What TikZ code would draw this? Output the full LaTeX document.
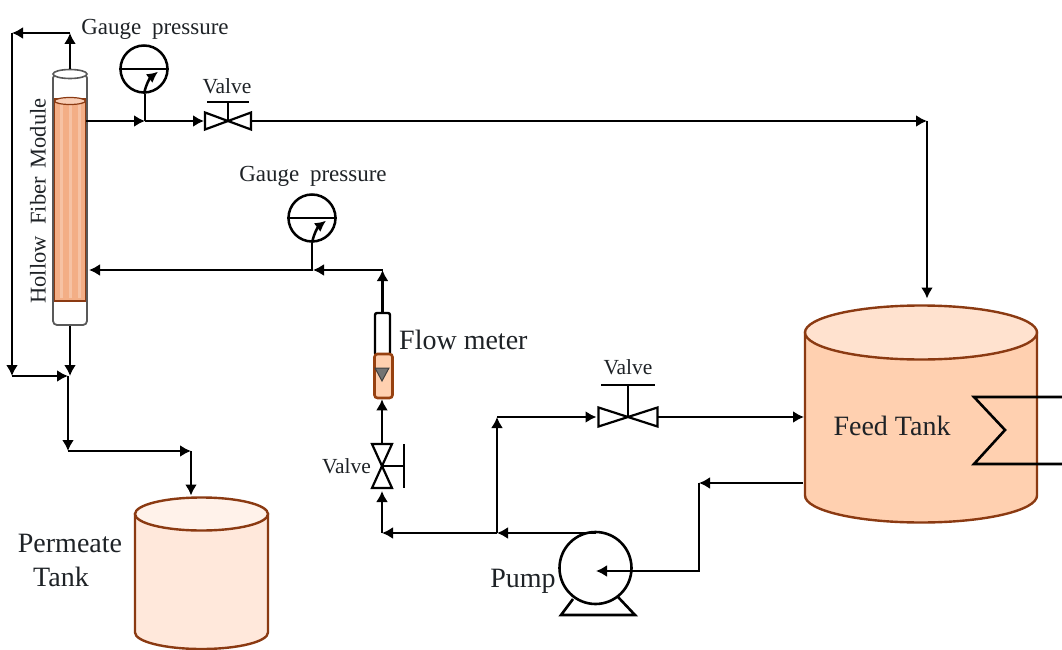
\documentclass[tikz,border=0pt]{standalone}
\usepackage{fontspec}
\setmainfont{Liberation Serif}
\usetikzlibrary{arrows.meta,shapes.geometric}
\definecolor{tankline}{HTML}{8B3A12}
\definecolor{feedbody}{HTML}{FFD0B0}
\definecolor{feedtop}{HTML}{FFE2CF}
\definecolor{permbody}{HTML}{FFE8DB}
\definecolor{permtop}{HTML}{FFF2EA}
\definecolor{fluid}{HTML}{F3AE86}
\definecolor{txt}{HTML}{1E2226}
\tikzset{
  pipe/.style={line width=2.9pt,-{Latex[length=11pt,width=12pt]}},
  lab/.style={font=\fontsize{#1}{#1}\selectfont,inner sep=0pt,text=txt},
  gauge/.style={circle,draw,line width=2.5pt,minimum size=47pt,inner sep=0pt},
  needle/.style={line width=2.5pt,-{Latex[length=11pt,width=11pt]}},
  pics/valve/.style n args={4}{code={
    \draw[line width=2.2pt,fill=white] (-#1,-#2) -- (0,0) -- (-#1,#2) -- cycle;
    \draw[line width=2.2pt,fill=white] (#1,-#2) -- (0,0) -- (#1,#2) -- cycle;
    \draw[line width=2.7pt] (0,0) -- (0,-#3);
    \draw[line width=2.5pt] (-#4,-#3) -- (#4,-#3);
    \coordinate (-a) at (-#1,0);
    \coordinate (-b) at (#1,0);
  }},
  pics/tank/.style n args={5}{code={
    \draw[draw=tankline,line width=2.4pt,fill=#4] (-#1,0) -- (-#1,#3) arc (180:360:#1pt and #2pt) -- (#1,0) -- cycle;
    \draw[draw=tankline,line width=2.4pt,fill=#5] (0,0) ellipse (#1pt and #2pt);
    \coordinate (-top) at (0,-#2);
    \coordinate (-west) at (-#1,0);
  }}
}
\begin{document}
\begin{tikzpicture}[x=1pt,y=-1pt]
\useasboundingbox (0,0) rectangle (1062,650);

% module
\node [draw=black!65,line width=1.8pt,fill=white,rounded corners=4pt,minimum width=34pt,minimum height=251pt,inner sep=0pt] (m) at (70,199.5) {};
\node [ellipse,draw=black!65,line width=1.6pt,fill=white,minimum width=34pt,minimum height=9pt,inner sep=0pt] (mt) at (70,74) {};
\node [fill=fluid,draw=tankline,line width=1.3pt,minimum width=31pt,minimum height=202pt,inner sep=0pt] (mf) at (70,200) {};
\foreach \x in {61,70,79}
  \draw [white,opacity=.25,line width=3pt] (\x,104) -- (\x,298);
\node [ellipse,draw=tankline,line width=1.2pt,fill=fluid!60,minimum width=31pt,minimum height=7pt,inner sep=0pt] (mc) at (70,101) {};
\node [lab=22.5,rotate=90] (ml) at (38,201) {Hollow\hspace{6pt} Fiber\hspace{3pt} Module};

% tanks
\pic (ft) at (921,332.5) {tank={116}{27}{163}{feedbody}{feedtop}};
\node [lab=28] (ftl) at (892,426) {Feed Tank};
\pic (pt) at (201.5,514) {tank={66.5}{16.5}{118.5}{permbody}{permtop}};
\node [lab=28,align=center] (ptl) at (70,560) {Permeate\\[6pt]Tank\hspace*{18pt}};

% coil
\coordinate (c1) at (1062,397);
\coordinate (c2) at (974,397);
\coordinate (c3) at (1005,430);
\coordinate (c4) at (974,464);
\coordinate (c5) at (1062,464);
\draw [line width=2.6pt] (c1) -- (c2) -- (c3) -- (c4) -- (c5);

% gauges
\node [gauge] (g1) at (144,69) {};
\node [lab=23] (g1l) at (155,29) {Gauge\hspace{5pt} pressure};
\node [gauge] (g2) at (312,218) {};
\node [lab=23] (g2l) at (313,176) {Gauge\hspace{5pt} pressure};
\draw [line width=2.2pt] (g1.west) -- (g1.east);
\draw [line width=2.2pt] (g2.west) -- (g2.east);
\draw [needle] (g1.south) to [bend left=20] ([shift={(14,-22)}]g1.south);
\draw [needle] (g2.south) to [bend left=20] ([shift={(14,-22)}]g2.south);

% valves
\pic (v1) at (228,121) {valve={23}{8.5}{19}{21}};
\node [lab=21.5] (v1l) at (227,86) {Valve};
\pic (v2) at (628,417) {valve={29.5}{9.5}{32}{27}};
\node [lab=21.5] (v2l) at (628,367) {Valve};
\pic [rotate=-90] (v3) at (382,466) {valve={22}{10}{22}{22}};
\node [lab=21.5] (v3l) at (346.5,466) {Valve};

% flow meter
\node [draw,line width=2.4pt,fill=white,rounded corners=2pt,minimum width=15pt,minimum height=42pt,inner sep=0pt] (fm) at (382.5,334) {};
\node [draw=tankline!90!orange,line width=2.6pt,fill=feedbody,rounded corners=3pt,minimum width=18pt,minimum height=44pt,inner sep=0pt] (fb) at (383.5,376) {};
\node [lab=28,anchor=west] (fl) at (399,340) {Flow meter};
\draw [fill=black!55,draw=black!75,line width=1pt] (375,368) -- (389,368) -- (382,381) -- cycle;

% pump
\coordinate (b1) at (573,599);
\coordinate (b2) at (561,615);
\coordinate (b3) at (635,615);
\coordinate (b4) at (618,597);
\draw [line width=2.6pt] (b1) -- (b2) -- (b3) -- (b4);
\node [circle,draw,line width=2.6pt,fill=white,minimum size=72pt,inner sep=0pt] (p) at (595.5,568) {};
\node [lab=28] (pl) at (523,581) {Pump};

% junctions
\coordinate (a) at (70,33);
\coordinate (b) at (12,33);
\coordinate (c) at (12,376);
\coordinate (d) at (68,376);
\coordinate (e) at (68,451);
\coordinate (f) at (191,451);
\coordinate (h) at (145,121);
\coordinate (i) at (927,121);
\coordinate (j) at (382.5,270);
\coordinate (k) at (313,270);
\coordinate (l) at (89,270);
\coordinate (n) at (382,533);
\coordinate (o) at (497,533);
\coordinate (q) at (497,417);
\coordinate (r) at (803,483);
\coordinate (s) at (699,483);
\coordinate (t) at (596,571);
\coordinate (u) at (804,417);

% pipes
\draw [pipe] (mt.north) -- (a);
\draw [pipe] (a) -- (b);
\draw [pipe] (b) -- (c);
\draw [pipe] (c) -- (d);
\draw [pipe] (m.south) -- (m.south |- d);
\draw [pipe] (d) -- (e);
\draw [pipe] (e) -- (f);
\draw [pipe,shorten >=2pt] (f) -- (f |- pt-top);
\draw [pipe] (mf.east |- h) -- (h);
\draw [line width=2.7pt] (h) -- (g1.south -| h);
\draw [pipe,shorten >=1pt] (h) -- (v1-a);
\draw [pipe] (v1-b) -- (i);
\draw [pipe,shorten >=7pt] (i) -- (i |- ft-top);
\draw [pipe] (fm.north) -- (j);
\draw [pipe] (j) -- (k);
\draw [pipe] (k) -- (l);
\draw [line width=2.7pt] (g2.south) -- (g2.south |- k);
\draw [pipe] (v3-a) -- (v3-a |- fb.south);
\draw [pipe,shorten >=3pt] (n) -- (v3-b);
\draw [pipe] (o) -- (n);
\draw [pipe] (p.north |- o) -- (o);
\draw [pipe] (o) -- (q);
\draw [pipe,shorten >=2pt] (q) -- (v2-a);
\draw [pipe] (v2-b) -- (u);
\draw [pipe] (r) -- (s);
\draw [pipe] (s) |- (t);
\end{tikzpicture}
\end{document}
